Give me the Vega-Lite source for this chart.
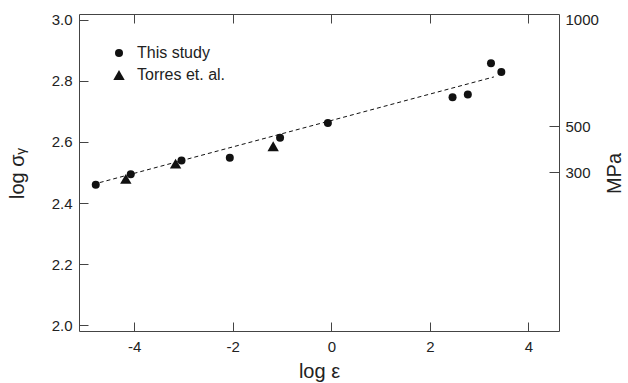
{
  "$schema": "https://vega.github.io/schema/vega-lite/v6.json",
  "width": 480,
  "height": 317,
  "autosize": {"type": "none"},
  "padding": {"left": 79, "top": 14, "right": 69, "bottom": 52},
  "background": "white",
  "config": {
    "font": "Liberation Sans",
    "view": {"stroke": "#444", "strokeWidth": 1},
    "axis": {
      "domain": false,
      "grid": false,
      "tickColor": "#444",
      "tickWidth": 1,
      "tickSize": -9,
      "labelFont": "Liberation Sans",
      "labelFontSize": 15,
      "labelColor": "#222",
      "titleFont": "Liberation Sans",
      "titleFontSize": 20,
      "titleFontWeight": "normal",
      "titleColor": "#222"
    },
    "legend": {
      "orient": "none",
      "legendX": 32,
      "legendY": 31,
      "padding": 0,
      "labelFontSize": 16,
      "labelColor": "#222",
      "labelFont": "Liberation Sans",
      "labelOffset": 10,
      "rowPadding": 6,
      "symbolFillColor": "#111",
      "symbolStrokeWidth": 0
    }
  },
  "datasets": {
    "fit": [
      {"x": -4.70, "y": 2.467},
      {"x": 3.30, "y": 2.813}
    ],
    "obs": [
      {"series": "This study", "x": -4.78, "y": 2.460},
      {"series": "This study", "x": -4.07, "y": 2.494},
      {"series": "This study", "x": -3.04, "y": 2.539},
      {"series": "This study", "x": -2.06, "y": 2.548},
      {"series": "This study", "x": -1.04, "y": 2.614},
      {"series": "This study", "x": -0.07, "y": 2.662},
      {"series": "This study", "x": 2.46, "y": 2.746},
      {"series": "This study", "x": 2.77, "y": 2.755},
      {"series": "This study", "x": 3.24, "y": 2.858},
      {"series": "This study", "x": 3.45, "y": 2.829},
      {"series": "Torres et. al.", "x": -4.17, "y": 2.479},
      {"series": "Torres et. al.", "x": -3.16, "y": 2.529},
      {"series": "Torres et. al.", "x": -1.18, "y": 2.586}
    ]
  },
  "layer": [
    {
      "data": {"name": "fit"},
      "mark": {"type": "line", "color": "#111", "strokeWidth": 1, "strokeDash": [4, 3]},
      "encoding": {
        "x": {
          "field": "x", "type": "quantitative",
          "scale": {"domain": [-5.12, 4.62], "nice": false, "zero": false},
          "axis": {"orient": "top", "values": [-4, -2, 0, 2, 4], "labels": false, "title": null}
        },
        "y": {
          "field": "y", "type": "quantitative",
          "scale": {"domain": [1.981, 3.019], "nice": false, "zero": false},
          "axis": {
            "orient": "right",
            "values": [3.0, 2.651, 2.501],
            "labelExpr": "datum.value > 2.9 ? '1000' : (datum.value > 2.6 ? '500' : '300')",
            "tickSize": -10,
            "tickOpacity": {"condition": {"test": "datum.value > 2.9", "value": 0}, "value": 1},
            "labelPadding": 16,
            "title": "MPa",
            "titleAngle": -90,
            "titleX": 61,
            "titleY": 159,
            "titleBaseline": "alphabetic",
            "titleAlign": "center"
          }
        }
      }
    },
    {
      "data": {"name": "obs"},
      "mark": {"type": "point", "filled": true, "color": "#111", "opacity": 1},
      "encoding": {
        "x": {
          "field": "x", "type": "quantitative",
          "axis": {
            "orient": "bottom",
            "values": [-4, -2, 0, 2, 4],
            "labelExpr": "'' + datum.value",
            "labelPadding": 17,
            "title": "log ε",
            "titleX": 240,
            "titleY": 46,
            "titleBaseline": "alphabetic",
            "titleAlign": "center"
          }
        },
        "y": {
          "field": "y", "type": "quantitative",
          "axis": {
            "orient": "left",
            "values": [2.0, 2.2, 2.4, 2.6, 2.8, 3.0],
            "format": ".1f",
            "labelPadding": 16,
            "title": "log σᵧ",
            "titleAngle": -90,
            "titleX": -62,
            "titleY": 159,
            "titleBaseline": "middle",
            "titleAlign": "center"
          }
        },
        "shape": {
          "field": "series", "type": "nominal", "title": null,
          "scale": {"domain": ["This study", "Torres et. al."], "range": ["circle", "triangle-up"]}
        },
        "size": {
          "field": "series", "type": "nominal", "title": null,
          "scale": {"domain": ["This study", "Torres et. al."], "range": [64, 130]}
        }
      }
    }
  ],
  "resolve": {"axis": {"x": "independent", "y": "independent"}}
}
